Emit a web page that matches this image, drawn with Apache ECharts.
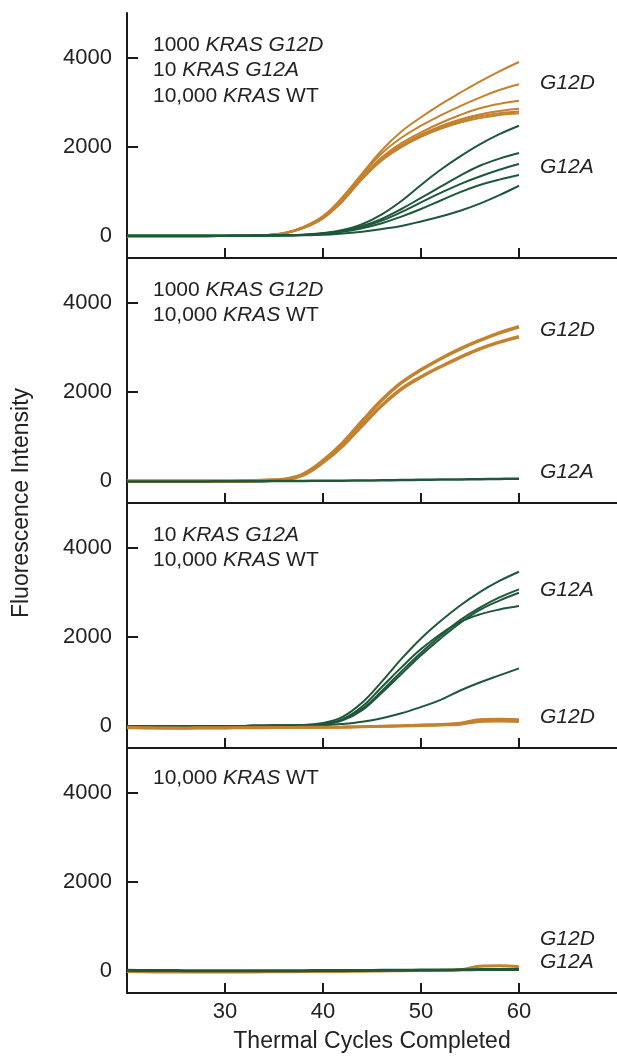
<!DOCTYPE html>
<html><head><meta charset="utf-8">
<script src="https://cdn.jsdelivr.net/npm/echarts@6/dist/echarts.min.js"></script>
<style>html,body{margin:0;padding:0;background:#fff}#c{width:617px;height:1058px}</style>
</head><body><div id="c"></div>
<script>
// Thermal cycles sampled every 2 cycles
const cycles = [20,22,24,26,28,30,32,34,36,38,40,42,44,46,48,50,52,54,56,58,60];
const xTicks = [30,40,50,60];
const yTicks = [0,2000,4000];

// Panel 1: 1000 G12D + 10 G12A + 10,000 WT
const p1_d1 = [-10,-10,-10,-10,-10,-5,0,10,60,200,440,870,1400,1920,2340,2660,2950,3210,3460,3690,3900];
const p1_d2 = [-10,-10,-10,-10,-10,-5,0,10,55,190,425,840,1370,1850,2200,2470,2700,2910,3100,3270,3400];
const p1_d3 = [-10,-10,-10,-10,-10,-5,0,10,55,185,410,810,1330,1760,2080,2320,2530,2710,2860,2960,3030];
const p1_d4 = [-10,-10,-10,-10,-10,-5,0,10,50,180,400,795,1310,1730,2030,2270,2460,2610,2720,2800,2850];
const p1_d5 = [-10,-10,-10,-10,-10,-5,0,10,50,175,395,785,1290,1710,2010,2250,2430,2570,2680,2750,2790];
const p1_d6 = [-10,-10,-10,-10,-10,-5,0,10,50,170,390,775,1270,1690,1990,2220,2400,2540,2640,2710,2750];
const p1_a1 = [0,0,0,0,0,0,0,5,10,20,60,130,260,480,780,1140,1480,1780,2050,2280,2470];
const p1_a2 = [0,0,0,0,0,0,0,5,10,20,50,110,220,380,600,850,1100,1350,1570,1730,1856];
const p1_a3 = [0,0,0,0,0,0,0,5,10,15,45,100,200,340,530,750,960,1160,1330,1480,1609];
const p1_a4 = [0,0,0,0,0,0,0,5,10,15,40,90,170,280,430,600,790,980,1140,1260,1362];
const p1_a5 = [0,0,0,0,0,0,0,0,5,10,20,50,90,150,220,320,430,560,720,910,1122];

// Panel 2: 1000 G12D + 10,000 WT
const p2_d1 = [-10,-10,-10,-10,-10,-10,-5,5,30,150,450,850,1340,1810,2200,2490,2740,2960,3150,3320,3457];
const p2_d2 = [-10,-10,-10,-10,-10,-10,-5,5,25,130,410,780,1240,1690,2060,2330,2560,2770,2960,3110,3232];
const p2_a1 = [-15,-15,-15,-15,-15,-10,-10,-10,-5,-5,0,0,5,10,15,20,25,30,35,40,45];

// Panel 3: 10 G12A + 10,000 WT
const p3_a1 = [-10,-10,-10,-10,-10,-10,-5,0,5,15,60,200,520,990,1500,1960,2350,2700,3000,3250,3457];
const p3_a2 = [-10,-10,-10,-10,-10,-10,-5,0,5,10,30,130,380,780,1220,1640,2020,2370,2650,2880,3062];
const p3_a3 = [-10,-10,-10,-10,-10,-10,-5,0,5,10,30,120,350,740,1160,1580,1960,2310,2600,2810,2986];
const p3_a4 = [-10,-10,-10,-10,-10,-10,-5,0,5,10,35,150,430,870,1310,1720,2060,2330,2500,2610,2687];
const p3_a5 = [-10,-10,-10,-10,-10,-10,-5,0,0,5,10,40,90,170,280,420,580,790,970,1130,1288];
const p3_d1 = [-40,-50,-50,-55,-50,-50,-45,-45,-40,-40,-35,-30,-20,-10,0,10,20,40,120,130,120];
const p3_d2 = [-50,-55,-60,-60,-55,-55,-50,-50,-45,-45,-40,-40,-30,-20,-10,0,10,30,90,100,90];
const p3_d3 = [-30,-40,-45,-45,-40,-40,-40,-35,-35,-30,-30,-25,-15,-5,5,20,35,60,140,150,140];

// Panel 4: 10,000 WT only
const p4_d1 = [-20,-25,-30,-30,-30,-30,-30,-25,-25,-20,-20,-15,-10,-5,0,5,10,20,100,110,90];
const p4_a1 = [10,5,5,0,0,0,0,0,0,0,5,5,5,10,10,15,15,20,25,30,30];

const ORANGE = '#c4812e';
const GREEN = '#1e573a';
const AX = '#1a1a1a';
const FONT = '"Liberation Sans", Arial, Helvetica, sans-serif';

const tops = [13, 258, 503, 748];
const H = 245;

function line(arr, gi, color, w, z) {
  return {
    type: 'line', xAxisIndex: gi, yAxisIndex: gi,
    data: cycles.map((c, k) => [c, arr[k]]),
    smooth: 0.4, showSymbol: false, symbol: 'none', z: z || 2,
    lineStyle: { color: color, width: w }, silent: true, animation: false
  };
}

const series = [];
[p1_d1,p1_d2,p1_d3,p1_d4,p1_d5,p1_d6].forEach(a => series.push(line(a, 0, ORANGE, 2, 2)));
[p1_a1,p1_a2,p1_a3,p1_a4,p1_a5].forEach(a => series.push(line(a, 0, GREEN, 2, 3)));
[p2_d1,p2_d2].forEach(a => series.push(line(a, 1, ORANGE, 3.5, 2)));
series.push(line(p2_a1, 1, GREEN, 2.5, 3));
[p3_a1,p3_a2,p3_a3,p3_a4,p3_a5].forEach(a => series.push(line(a, 2, GREEN, 2, 2)));
[p3_d1,p3_d2,p3_d3].forEach(a => series.push(line(a, 2, ORANGE, 2.5, 3)));
series.push(line(p4_d1, 3, ORANGE, 3, 2));
series.push(line(p4_a1, 3, GREEN, 3, 3));

const grids = tops.map(t => ({ left: 127, right: 0, top: t, height: H, outerBoundsMode: 'none', containLabel: false }));

const xAxes = tops.map((t, i) => ({
  gridIndex: i, type: 'value', min: 20, max: 70, interval: 10,
  axisLine: { show: true, onZero: false, lineStyle: { color: AX, width: 2 } },
  axisTick: { show: true, inside: true, length: 10, customValues: xTicks, lineStyle: { color: AX, width: 2 } },
  axisLabel: { show: i === 3, customValues: xTicks, fontSize: 22, color: '#222', margin: 8, fontFamily: FONT,
               formatter: v => String(v) },
  splitLine: { show: false },
  name: i === 3 ? 'Thermal Cycles Completed' : '',
  nameLocation: 'middle', nameGap: 37,
  nameTextStyle: { fontSize: 23, color: '#222', fontFamily: FONT }
}));

const yAxes = tops.map((t, i) => ({
  gridIndex: i, type: 'value', min: -500, max: 5000,
  axisLine: { show: true, lineStyle: { color: AX, width: 2 } },
  axisTick: { show: true, inside: true, length: 11, customValues: yTicks, lineStyle: { color: AX, width: 2 } },
  axisLabel: { customValues: yTicks, fontSize: 22, color: '#222', margin: 15, fontFamily: FONT,
               formatter: v => String(v) },
  splitLine: { show: false }
}));

const rich = { i: { fontStyle: 'italic', fontSize: 21, fontFamily: FONT, fill: '#222', color: '#222' } };
function ann(x, y, text) {
  return { type: 'text', x: x, y: y, silent: true,
    style: { text: text, fontSize: 21, fontFamily: FONT, fill: '#222',
             textVerticalAlign: 'middle', verticalAlign: 'middle', rich: rich } };
}
function lab(x, y, text) {
  return { type: 'text', x: x, y: y, silent: true,
    style: { text: text, fontSize: 21, fontStyle: 'italic', fontFamily: FONT, fill: '#222',
             textVerticalAlign: 'middle', verticalAlign: 'middle' } };
}

const graphics = [
  ann(153, 45, '1000 {i|KRAS G12D}'),
  ann(153, 70.5, '10 {i|KRAS G12A}'),
  ann(153, 96, '10,000 {i|KRAS} WT'),
  ann(153, 290, '1000 {i|KRAS G12D}'),
  ann(153, 315.5, '10,000 {i|KRAS} WT'),
  ann(153, 535, '10 {i|KRAS G12A}'),
  ann(153, 560.5, '10,000 {i|KRAS} WT'),
  ann(153, 778, '10,000 {i|KRAS} WT'),
  lab(540, 83, 'G12D'), lab(540, 167, 'G12A'),
  lab(540, 330, 'G12D'), lab(540, 472, 'G12A'),
  lab(540, 590, 'G12A'), lab(540, 717, 'G12D'),
  lab(540, 939, 'G12D'), lab(540, 962, 'G12A'),
  { type: 'text', x: 22, y: 503, rotation: Math.PI / 2, silent: true,
    style: { text: 'Fluorescence Intensity', fontSize: 23, fontFamily: FONT, fill: '#222',
             textAlign: 'center', align: 'center', textVerticalAlign: 'middle', verticalAlign: 'middle' } }
];

const chart = echarts.init(document.getElementById('c'), null, { renderer: 'canvas' });
chart.setOption({
  backgroundColor: '#fff',
  animation: false,
  grid: grids,
  xAxis: xAxes,
  yAxis: yAxes,
  series: series,
  graphic: graphics
});
</script>
</body></html>
